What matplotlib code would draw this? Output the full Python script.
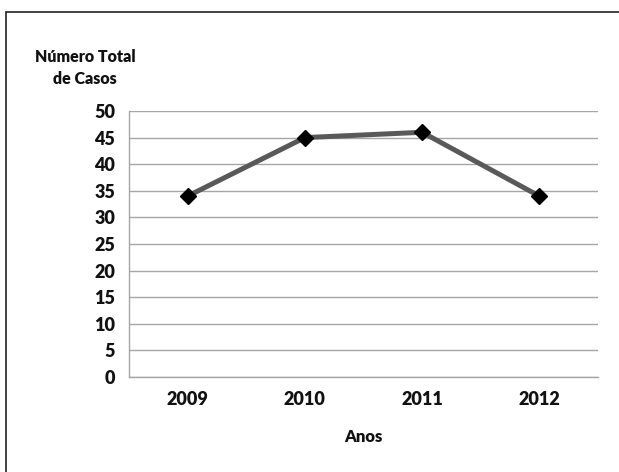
import matplotlib.pyplot as plt
from matplotlib.patches import Rectangle

anos = ['2009', '2010', '2011', '2012']
casos = [34, 45, 46, 34]
y_ticks = [0, 5, 10, 15, 20, 25, 30, 35, 40, 45, 50]

plt.rcParams['font.family'] = ['Lato', 'DejaVu Sans']

fig = plt.figure(figsize=(6.19, 4.72), dpi=100)
ax = fig.add_axes([129 / 619, 1 - 377 / 472, 469 / 619, 266 / 472])

# outer frame (runs off the right and bottom edges)
fig.patches.append(Rectangle((6 / 619, -0.05), 1.0, 1 - 12 / 472 + 0.05,
                             transform=fig.transFigure, fill=False,
                             edgecolor='#222222', linewidth=1.2))

x = list(range(len(anos)))
ax.plot(x, casos, color='#595959', linewidth=3.6, zorder=3)
ax.plot(x, casos, linestyle='none', marker='D', markersize=8,
        color='black', zorder=4)

ax.set_xlim(-0.5, 3.5)
ax.set_ylim(0, 50)
ax.set_yticks(y_ticks)
ax.set_xticks(x)
ax.set_xticklabels(anos)
ax.yaxis.grid(True, color='#a6a6a6', linewidth=1)
ax.set_axisbelow(True)
for s in ['top', 'right']:
    ax.spines[s].set_visible(False)
for s in ['left', 'bottom']:
    ax.spines[s].set_color('#a6a6a6')
    ax.spines[s].set_linewidth(1)
ax.tick_params(length=0, labelsize=13, colors='#111111')
ax.tick_params(axis='y', pad=10)
ax.tick_params(axis='x', pad=10)
for lab in ax.get_xticklabels() + ax.get_yticklabels():
    lab.set_fontweight('heavy')

fig.text(85 / 619, 1 - 68 / 472, 'Número Total\nde Casos', ha='center',
         va='center', fontsize=11.5, fontweight='heavy', color='#111111',
         linespacing=1.5)
fig.text(363 / 619, 1 - 437 / 472, 'Anos', ha='center', va='center',
         fontsize=12, fontweight='heavy', color='#111111')

fig.savefig('out.png', dpi=100)
